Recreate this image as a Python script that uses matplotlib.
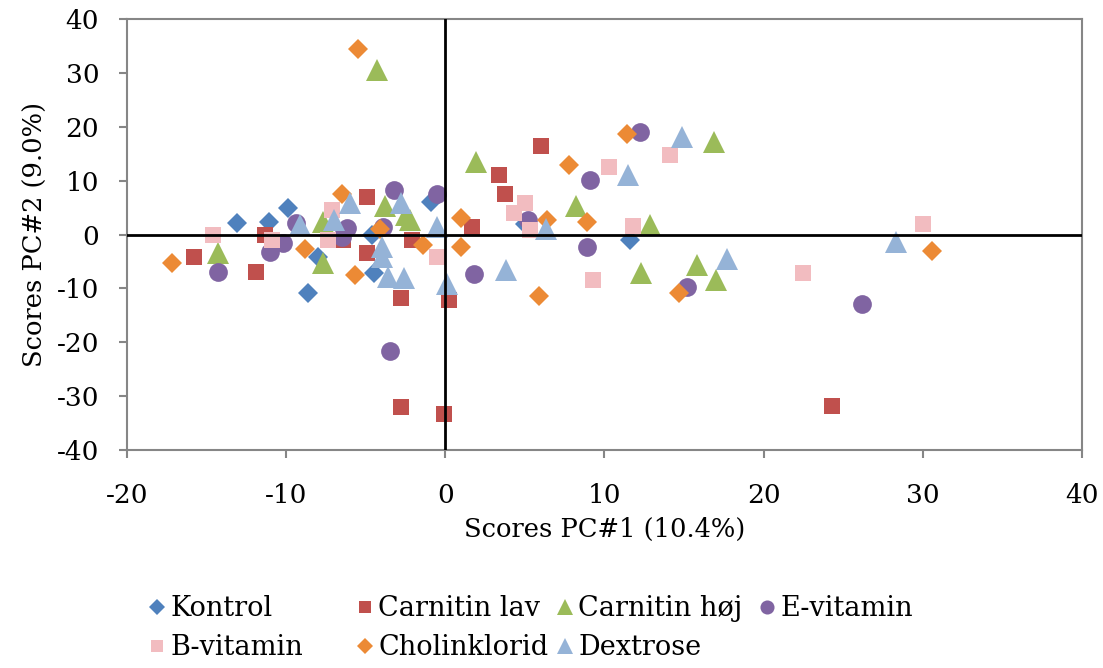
import matplotlib.pyplot as plt
from matplotlib.lines import Line2D

# PCA scores per treatment group (PC#1, PC#2)
kontrol_x = [-13.1, -11.1, -9.9, -8.6, -8.0, -4.5, -4.6, -0.9, 11.6, 5.0]
kontrol_y = [2.1, 2.4, 4.9, -10.9, -4.1, -7.2, -0.1, 6.1, -1.0, 2.0]

carn_lav_x = [-15.8, -11.9, -11.3, -6.4, -4.9, -4.9, -2.8, -2.1, 0.2, 1.7,
              3.4, 3.75, 6.0, -2.8, -0.1, 24.3]
carn_lav_y = [-4.2, -6.9, -0.1, -1.0, 7.0, -3.5, -11.8, -1.0, -12.2, 1.4,
              11.0, 7.6, 16.4, -32.1, -33.3, -31.8]

carn_hoj_x = [-14.3, -7.7, -7.7, -3.8, -2.2, -2.5, 1.9, 8.2, 12.85, 12.3,
              15.8, 17.0, 16.9, -4.3]
carn_hoj_y = [-3.4, -5.3, 2.4, 5.2, 2.7, 3.6, 13.5, 5.3, 1.8, -7.2,
              -5.7, -8.4, 17.2, 30.5]

evit_x = [-14.3, -11.0, -9.4, -10.2, -6.2, -6.5, -3.2, -3.9, -0.5, 1.8,
          5.2, 9.1, 8.9, 12.2, 15.2, 26.2, -3.5]
evit_y = [-6.9, -3.2, 2.1, -1.5, 1.2, -0.5, 8.3, 1.4, 7.6, -7.3,
          2.7, 10.1, -2.3, 19.1, -9.7, -12.9, -21.7]

bvit_x = [-14.6, -10.9, -7.1, -7.4, -0.5, 5.0, 4.3, 5.3, 10.3, 9.3,
          11.8, 14.1, 22.5, 30.0]
bvit_y = [-0.1, -1.0, 4.5, -1.0, -4.1, 5.8, 3.9, 0.8, 12.6, -8.4,
          1.6, 14.7, -7.1, 1.9]

cholin_x = [-17.2, -8.8, -6.5, -5.7, -4.1, -1.4, 1.0, 1.0, 6.4, 5.9,
            7.8, 8.9, 11.4, 14.7, 30.6, -5.5]
cholin_y = [-5.2, -2.6, 7.6, -7.5, 1.1, -1.9, 3.0, -2.3, 2.7, -11.5,
            12.9, 2.4, 18.6, -10.9, -3.0, 34.5]

dextrose_x = [-9.1, -7.0, -6.0, -4.0, -4.0, -3.6, -2.6, -2.8, -0.5, 0.1,
              3.8, 6.3, 11.5, 14.85, 17.7, 28.3]
dextrose_y = [1.8, 2.7, 5.8, -2.3, -4.1, -7.8, -8.1, 5.8, 1.4, -9.1,
              -6.6, 1.1, 11.0, 18.1, -4.6, -1.3]

x_ticks = [-20, -10, 0, 10, 20, 30, 40]
y_ticks = [-40, -30, -20, -10, 0, 10, 20, 30, 40]

plt.rcParams['font.family'] = ['DejaVu Serif']
plt.rcParams['axes.unicode_minus'] = False

# label, x, y, marker, size, colour
series = [
    ('Kontrol', kontrol_x, kontrol_y, 'D', 10.5, '#4F81BD'),
    ('Carnitin lav', carn_lav_x, carn_lav_y, 's', 12.2, '#C0504D'),
    ('Carnitin høj', carn_hoj_x, carn_hoj_y, '^', 15.5, '#9BBB59'),
    ('E-vitamin', evit_x, evit_y, 'o', 13.5, '#8064A2'),
    ('B-vitamin', bvit_x, bvit_y, 's', 12.2, '#F2BCC0'),
    ('Cholinklorid', cholin_x, cholin_y, 'D', 10.5, '#EC8A35'),
    ('Dextrose', dextrose_x, dextrose_y, '^', 15.5, '#95B3D7'),
]

fig = plt.figure(figsize=(11.03, 6.68), dpi=100)
ax = fig.add_axes([0.1151, 0.3263, 0.8659, 0.6453])

handles = []
for i, (name, xs, ys, mk, ms, col) in enumerate(series):
    ax.plot(xs, ys, linestyle='none', marker=mk, markersize=ms,
            color=col, markeredgewidth=0, zorder=2 + i)
    handles.append(Line2D([], [], linestyle='none', marker=mk,
                          markersize=ms * 0.75, color=col,
                          markeredgewidth=0, label=name))

# black cross lines through the origin
ax.axhline(0, color='black', lw=2, zorder=20)
ax.axvline(0, color='black', lw=2, zorder=20)

ax.set_xlim(-20, 40)
ax.set_ylim(-40, 40)
ax.set_xticks(x_ticks)
ax.set_yticks(y_ticks)
for s in ax.spines.values():
    s.set_color('#868686')
    s.set_linewidth(1.5)
ax.tick_params(direction='out', length=6, width=1.5, color='#868686',
               labelsize=19)
ax.tick_params(axis='x', pad=18)
ax.tick_params(axis='y', pad=14)
ax.set_xlabel('Scores PC#1 (10.4%)', fontsize=18.5, labelpad=6)
ax.set_ylabel('Scores PC#2 (9.0%)', fontsize=18.5, labelpad=6)

# legend below, laid out in fixed-width columns
columns = [[0, 4], [1, 5], [2, 6], [3]]
col_x = [150, 358, 558, 760]
for idx, px in zip(columns, col_x):
    fig.legend(handles=[handles[k] for k in idx], loc='upper left',
               bbox_to_anchor=(px / 1103, 1 - 595 / 668),
               frameon=False, fontsize=19.5, handlelength=0.55,
               handletextpad=0.2, labelspacing=0.45, borderpad=0,
               borderaxespad=0)

fig.savefig('out.png', dpi=100)
